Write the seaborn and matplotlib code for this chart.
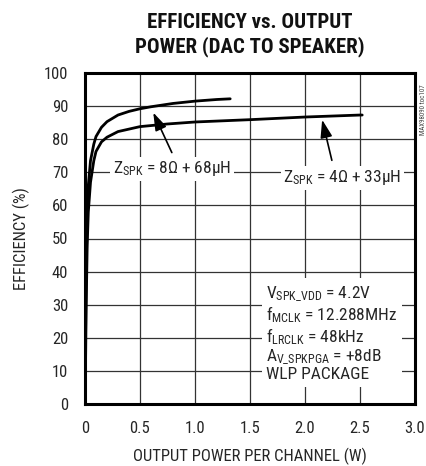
import matplotlib
matplotlib.use("Agg")
import matplotlib.pyplot as plt
from matplotlib import font_manager as fm
import seaborn as sns
import pandas as pd

# Data
p_8ohm = [0.0, 0.005, 0.01, 0.02, 0.03, 0.05, 0.08, 0.1, 0.15, 0.2, 0.3, 0.4, 0.5, 0.6, 0.8, 1.0, 1.2, 1.32]
e_8ohm = [0.0, 20, 38, 57, 66, 73.5, 78.5, 80.8, 83.6, 85.3, 87.3, 88.4, 89.2, 89.8, 90.8, 91.5, 92.0, 92.2]
p_4ohm = [0.0, 0.005, 0.01, 0.02, 0.03, 0.05, 0.08, 0.1, 0.15, 0.2, 0.3, 0.5, 0.75, 1.0, 1.5, 2.0, 2.5, 2.52]
e_4ohm = [0.0, 12, 28, 48, 58, 67, 73.5, 76.3, 79.2, 80.6, 82.3, 83.8, 84.6, 85.2, 85.9, 86.7, 87.3, 87.3]
series_names = ["8ohm", "4ohm"]

x_ticks = [0, 0.5, 1.0, 1.5, 2.0, 2.5, 3.0]
x_tick_labels = ["0", "0.5", "1.0", "1.5", "2.0", "2.5", "3.0"]
y_ticks = [0, 10, 20, 30, 40, 50, 60, 70, 80, 90, 100]

df = pd.concat([
    pd.DataFrame({"P": p_8ohm, "E": e_8ohm, "series": series_names[0]}),
    pd.DataFrame({"P": p_4ohm, "E": e_4ohm, "series": series_names[1]}),
], ignore_index=True)

sns.set_theme(style="white")

# pick a narrow / condensed font if one is installed
entries = fm.fontManager.ttflist
narrow = [e for e in entries
          if ("narrow" in e.fname.lower() or "condensed" in e.fname.lower()
              or "narrow" in e.name.lower() or "condensed" in e.name.lower())
          and e.style == "normal"]
pref = ["Liberation Sans Narrow", "Roboto Condensed", "Open Sans Condensed",
        "DejaVu Sans Condensed", "Noto Sans Condensed"]
chosen = None
for p in pref:
    for e in narrow:
        if e.name == p:
            chosen = e
            break
    if chosen:
        break
if chosen is None:
    sans_narrow = [e for e in narrow if "sans" in e.name.lower() or "sans" in e.fname.lower()]
    if sans_narrow:
        chosen = sans_narrow[0]
    elif narrow:
        chosen = narrow[0]

if chosen is not None:
    fam = chosen.name
    plt.rcParams["font.family"] = [fam, "DejaVu Sans"]
    plt.rcParams["font.stretch"] = chosen.stretch
    plt.rcParams["mathtext.fontset"] = "custom"
    plt.rcParams["mathtext.rm"] = fam
    plt.rcParams["mathtext.it"] = fam
    plt.rcParams["mathtext.bf"] = fam + ":bold"
    FS = 12
else:
    plt.rcParams["font.family"] = ["DejaVu Sans"]
    plt.rcParams["mathtext.fontset"] = "dejavusans"
    FS = 10

TXT = "#262626"

fig = plt.figure(figsize=(4.27, 4.66), dpi=100)
ax = fig.add_axes([85/427, 62/466, 330/427, 331/466])

sns.lineplot(data=df, x="P", y="E", hue="series", palette=["black", "black"],
             linewidth=2.0, legend=False, ax=ax, sort=False, estimator=None)

ax.set_xlim(0, 3.0)
ax.set_ylim(0, 100)
ax.set_xticks(x_ticks)
ax.set_xticklabels(x_tick_labels)
ax.set_yticks(y_ticks)
ax.grid(True, color="#333333", linewidth=0.9)
ax.set_axisbelow(True)
for s in ax.spines.values():
    s.set_visible(True)
    s.set_color("black")
    s.set_linewidth(2.2)
ax.tick_params(axis="x", length=0, pad=12, labelsize=FS, colors=TXT)
ax.tick_params(axis="y", length=0, pad=12, labelsize=FS, colors=TXT)
ax.set_xlabel("OUTPUT POWER PER CHANNEL (W)", fontsize=FS, color=TXT, labelpad=9)
ax.set_ylabel("EFFICIENCY (%)", fontsize=FS, color=TXT, labelpad=10)

fig.text(250/427, 1 - 35/466, "EFFICIENCY vs. OUTPUT\nPOWER (DAC TO SPEAKER)",
         ha="center", va="center", fontsize=FS + 3, fontweight="bold", linespacing=1.3,
         color="#111111")

ax.text(0.79, 71, r"Z$_{\mathregular{SPK}}$ = 8Ω + 68µH", ha="center", va="center",
        fontsize=FS + 0.5, color=TXT,
        bbox=dict(boxstyle="square,pad=0.15", fc="white", ec="none"))
ax.annotate("", xy=(0.61, 88.8), xytext=(0.8, 75.2),
            arrowprops=dict(arrowstyle="-|>,head_length=0.9,head_width=0.3", color="black", lw=1.2))

ax.text(2.34, 68.3, r"Z$_{\mathregular{SPK}}$ = 4Ω + 33µH", ha="center", va="center",
        fontsize=FS + 0.5, color=TXT,
        bbox=dict(boxstyle="square,pad=0.15", fc="white", ec="none"))
ax.annotate("", xy=(2.15, 86.7), xytext=(2.25, 72.8),
            arrowprops=dict(arrowstyle="-|>,head_length=0.9,head_width=0.3", color="black", lw=1.2))

cond = (r"V$_{\mathregular{SPK\_VDD}}$ = 4.2V" "\n"
        r"f$_{\mathregular{MCLK}}$ = 12.288MHz" "\n"
        r"f$_{\mathregular{LRCLK}}$ = 48kHz" "\n"
        r"A$_{\mathregular{V\_SPKPGA}}$ = +8dB" "\n"
        "WLP PACKAGE")
ax.text(1.65, 21.3, cond, ha="left", va="center", fontsize=FS + 0.5, color=TXT,
        linespacing=1.05,
        bbox=dict(boxstyle="square,pad=0.25", fc="white", ec="none"))

fig.text(424/427, 1 - 110/466, "MAX98090 toc107", rotation=90, ha="center", va="center",
         fontsize=5, color="#444444")

fig.savefig("out.png", dpi=100)
